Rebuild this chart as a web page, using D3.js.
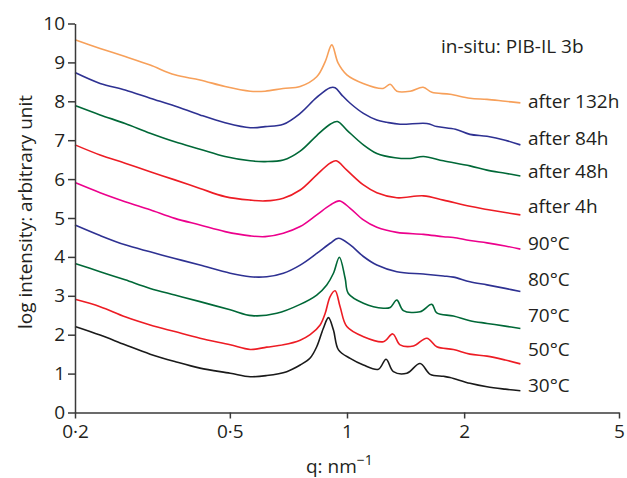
<!DOCTYPE html>
<meta charset="utf-8">
<style>
body { margin: 0; background: #fff; }
svg text { font-family: "Open Sans", sans-serif; fill: #231f20; }
.axis path, .axis line { stroke: #3a3a3a; stroke-width: 1.5; }
.axis text { font-size: 19px; }
.series path { fill: none; stroke-width: 1.6; stroke-linejoin: round; }
</style>
<body>
<script src="https://cdn.jsdelivr.net/npm/d3@7"></script>
<script>

// ---- data (q in nm^-1, log intensity) ----

var xTicks = [0.2, 0.5, 1, 2, 5]
var xTickLabels = ['0·2', '0·5', '1', '2', '5']
var yTicks = [0, 1, 2, 3, 4, 5, 6, 7, 8, 9, 10]

var names = ['30°C', '50°C', '70°C', '80°C', '90°C', 'after 4h', 'after 48h', 'after 84h', 'after 132h']
var colors = ['#1a1a1a', '#ed1c24', '#006837', '#2e3192', '#ec008c', '#ed1c24', '#006837', '#2e3192', '#f7a05a']
// where each name label sits (value units)
var labelPos = [0.53, 1.45, 2.33, 3.25, 4.18, 5.12, 6.02, 6.88, 7.83]

var s30 = [[0.2,2.21],[0.232,1.99],[0.269,1.74],[0.312,1.5],[0.361,1.31],[0.419,1.14],[0.501,1.01],[0.564,0.92],
  [0.622,0.95],[0.7,1.05],[0.758,1.22],[0.804,1.4],[0.836,1.69],[0.869,2.16],[0.896,2.44],[0.923,2.12],[0.951,1.61],
  [1.019,1.39],[1.102,1.22],[1.204,1.11],[1.26,1.37],[1.316,1.05],[1.425,1.01],[1.541,1.26],[1.636,0.98],[1.77,0.93],
  [1.84,0.9],[2.07,0.75],[2.29,0.66],[2.55,0.6],[2.79,0.56]]
var s50 = [[0.2,2.91],[0.232,2.72],[0.269,2.46],[0.312,2.25],[0.361,2.08],[0.419,1.91],[0.501,1.74],[0.564,1.62],
  [0.622,1.68],[0.686,1.74],[0.758,1.86],[0.804,2.0],[0.853,2.25],[0.879,2.55],[0.905,2.98],[0.932,3.13],[0.96,2.72],
  [0.999,2.21],[1.102,1.95],[1.24,1.82],[1.311,2.02],[1.369,1.74],[1.481,1.71],[1.604,1.91],[1.701,1.69],[1.877,1.62],
  [2.07,1.5],[2.29,1.45],[2.55,1.35],[2.79,1.25]]
var s70 = [[0.2,3.83],[0.232,3.62],[0.269,3.41],[0.312,3.19],[0.361,3.02],[0.419,2.85],[0.501,2.64],[0.57,2.49],
  [0.66,2.55],[0.758,2.78],[0.836,3.02],[0.887,3.28],[0.923,3.58],[0.956,3.99],[0.989,3.45],[1.008,3.06],[1.102,2.81],
  [1.24,2.68],[1.291,2.7],[1.343,2.89],[1.396,2.62],[1.541,2.59],[1.652,2.78],[1.701,2.56],[1.877,2.48],[2.07,2.36],
  [2.29,2.29],[2.55,2.22],[2.79,2.16]]
var s80 = [[0.2,4.82],[0.232,4.55],[0.269,4.31],[0.312,4.13],[0.361,3.96],[0.419,3.79],[0.501,3.58],[0.564,3.49],
  [0.622,3.49],[0.686,3.58],[0.758,3.79],[0.836,4.09],[0.905,4.35],[0.951,4.48],[1.019,4.31],[1.102,4.01],[1.193,3.79],
  [1.343,3.62],[1.572,3.56],[1.769,3.51],[1.877,3.48],[2.07,3.36],[2.29,3.28],[2.55,3.19],[2.79,3.11]]
var s90 = [[0.2,5.91],[0.232,5.65],[0.269,5.42],[0.312,5.21],[0.361,4.99],[0.419,4.82],[0.486,4.65],[0.564,4.54],
  [0.616,4.52],[0.686,4.61],[0.758,4.78],[0.836,5.08],[0.905,5.33],[0.956,5.44],[1.019,5.25],[1.102,4.95],[1.193,4.76],
  [1.343,4.63],[1.572,4.58],[1.769,4.52],[1.877,4.5],[2.07,4.42],[2.29,4.36],[2.55,4.28],[2.79,4.2]]
var s4h = [[0.2,6.88],[0.232,6.62],[0.269,6.41],[0.312,6.19],[0.361,5.98],[0.419,5.76],[0.486,5.55],[0.564,5.46],
  [0.616,5.44],[0.686,5.51],[0.758,5.72],[0.836,6.11],[0.905,6.41],[0.938,6.47],[0.999,6.23],[1.102,5.85],[1.193,5.65],
  [1.343,5.52],[1.572,5.57],[1.769,5.46],[2.07,5.3],[2.29,5.22],[2.55,5.14],[2.79,5.08]]
var s48h = [[0.2,7.89],[0.232,7.65],[0.269,7.43],[0.312,7.18],[0.361,6.96],[0.419,6.77],[0.486,6.58],[0.564,6.47],
  [0.616,6.45],[0.686,6.49],[0.758,6.72],[0.836,7.12],[0.905,7.41],[0.945,7.48],[0.999,7.26],[1.102,6.88],[1.193,6.66],
  [1.329,6.55],[1.453,6.53],[1.572,6.58],[1.769,6.47],[2.07,6.34],[2.29,6.23],[2.55,6.15],[2.79,6.08]]
var s84h = [[0.2,8.74],[0.232,8.46],[0.269,8.29],[0.312,8.08],[0.361,7.88],[0.419,7.65],[0.486,7.45],[0.564,7.32],
  [0.616,7.35],[0.686,7.41],[0.758,7.69],[0.836,8.1],[0.905,8.35],[0.932,8.35],[0.97,8.16],[1.019,7.95],[1.102,7.69],
  [1.193,7.52],[1.266,7.46],[1.369,7.41],[1.604,7.43],[1.701,7.35],[1.9,7.28],[2.07,7.15],[2.29,7.1],[2.55,7.0],[2.79,6.88]]
var s132h = [[0.2,9.58],[0.232,9.36],[0.269,9.15],[0.312,8.93],[0.361,8.68],[0.419,8.55],[0.486,8.38],[0.564,8.26],
  [0.616,8.26],[0.685,8.33],[0.758,8.38],[0.836,8.63],[0.879,9.02],[0.914,9.45],[0.949,8.98],[0.999,8.68],[1.1,8.46],
  [1.238,8.33],[1.291,8.44],[1.343,8.26],[1.453,8.26],[1.569,8.36],[1.652,8.23],[1.84,8.18],[2.07,8.08],[2.29,8.05],
  [2.55,8.0],[2.79,7.96]]

var series = [s30, s50, s70, s80, s90, s4h, s48h, s84h, s132h]

// ---- chart ----

var width = 627
var height = 478

var x = d3.scaleLog()
    .domain([0.2, 5])
    .range([75, 619])

var y = d3.scaleLinear()
    .domain([0, 10])
    .range([412.5, 23.5])

var svg = d3.select('body').append('svg')
    .attr('width', width)
    .attr('height', height)

var line = d3.line()
    .x(function (d) { return x(d[0]) })
    .y(function (d) { return y(d[1]) })
    .curve(d3.curveCatmullRom.alpha(0.5))

svg.append('g')
    .attr('class', 'series')
  .selectAll('path')
    .data(series)
    .enter().append('path')
    .attr('d', line)
    .attr('stroke', function (d, i) { return colors[i] })

// axes
svg.append('g')
    .attr('class', 'axis')
    .attr('transform', 'translate(0,' + y(0) + ')')
    .call(d3.axisBottom(x)
        .tickValues(xTicks)
        .tickFormat(function (d, i) { return xTickLabels[i] })
        .tickSize(6)
        .tickSizeOuter(0)
        .tickPadding(6))

svg.append('g')
    .attr('class', 'axis')
    .attr('transform', 'translate(' + x(0.2) + ',0)')
    .call(d3.axisLeft(y)
        .tickValues(yTicks)
        .tickSize(7)
        .tickSizeOuter(0)
        .tickPadding(3))

svg.selectAll('.axis text').attr('fill', '#231f20').style('font-family', '"Open Sans", sans-serif')

// series labels
svg.append('g')
  .selectAll('text')
    .data(names)
    .enter().append('text')
    .attr('x', 528)
    .attr('y', function (d, i) { return y(labelPos[i]) })
    .attr('font-size', 19)
    .text(function (d) { return d })

svg.append('text')
    .attr('x', 441)
    .attr('y', 53)
    .attr('font-size', 19)
    .text('in-situ: PIB-IL 3b')

// axis titles
var xt = svg.append('text')
    .attr('x', 306)
    .attr('y', 473)
    .attr('font-size', 19)
xt.append('tspan').text('q: nm')
xt.append('tspan').attr('dy', -8).attr('font-size', 14).text('−1')

svg.append('text')
    .attr('transform', 'translate(32,212) rotate(-90)')
    .attr('text-anchor', 'middle')
    .attr('font-size', 19)
    .text('log intensity: arbitrary unit')

</script>
</body>
